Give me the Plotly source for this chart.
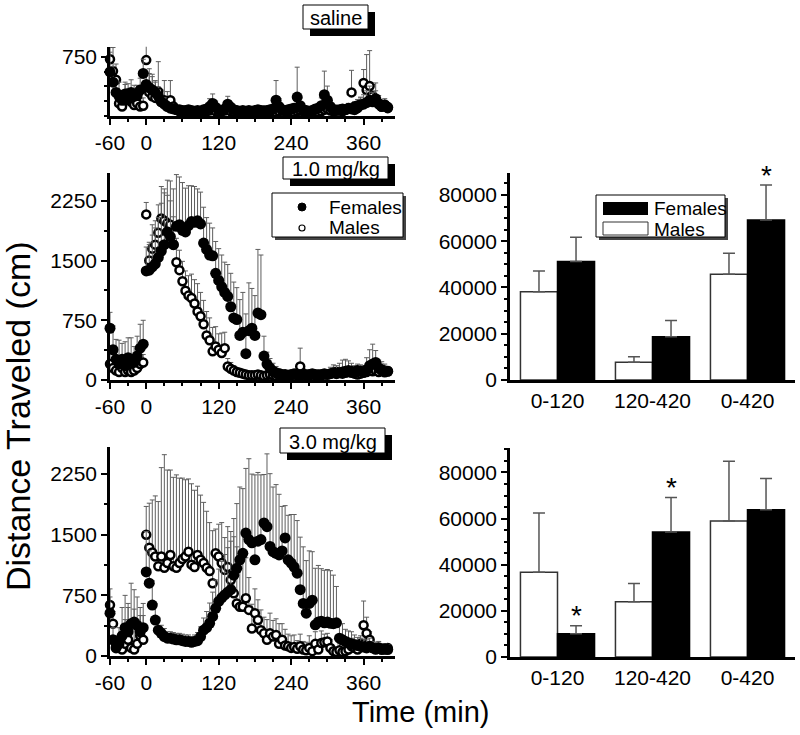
import plotly.graph_objects as go

W, H = 800, 735
FONT = "Liberation Sans, Arial, sans-serif"

# ---------------- data ----------------
times = [-60, -55, -50, -45, -40, -35, -30, -25, -20, -15, -10, -5,
         0, 5, 10, 15, 20, 25, 30, 35, 40, 45, 50, 55,
         60, 65, 70, 75, 80, 85, 90, 95, 100, 105, 110, 115,
         120, 125, 130, 135, 140, 145, 150, 155, 160, 165, 170, 175,
         180, 185, 190, 195, 200, 205, 210, 215, 220, 225, 230, 235,
         240, 245, 250, 255, 260, 265, 270, 275, 280, 285, 290, 295,
         300, 305, 310, 315, 320, 325, 330, 335, 340, 345, 350, 355,
         360, 365, 370, 375, 380, 385, 390, 395, 400]

# saline
sal_f = [560, 430, 300, 250, 200, 280, 220, 300, 250, 260, 330, 540,
         400, 360, 330, 300, 250, 180, 150, 120, 100, 90, 80, 80,
         70, 70, 80, 70, 60, 70, 60, 80, 90, 120, 160, 110,
         80, 70, 90, 150, 110, 80, 70, 60, 70, 60, 70, 60,
         70, 80, 70, 60, 70, 80, 90, 200, 120, 80, 70, 80,
         90, 100, 240, 130, 80, 70, 60, 70, 90, 100, 130, 270,
         200, 120, 80, 70, 80, 90, 80, 100, 90, 80, 130, 140,
         150, 170, 200, 180, 220, 160, 120, 140, 110]
sal_fe = [250, 200, 150, 180, 120, 150, 130, 160, 140, 130, 150, 180,
          150, 180, 200, 150, 120, 100, 80, 60, 50, 40, 40, 40,
          30, 30, 40, 30, 30, 30, 30, 40, 50, 100, 120, 80,
          40, 40, 50, 100, 60, 40, 30, 30, 30, 30, 30, 30,
          30, 40, 30, 30, 40, 40, 50, 250, 100, 40, 30, 40,
          50, 60, 380, 100, 40, 30, 30, 40, 50, 60, 100, 300,
          180, 80, 40, 30, 40, 50, 40, 60, 50, 40, 80, 100,
          120, 150, 180, 120, 200, 100, 60, 80, 60]
sal_m = [720, 570, 460, 160, 120, 200, 230, 180, 140, 160, 120, 130,
         710, 300, 250, 230, 310, 180, 200, 160, 200, 120, 80, 60,
         60, 50, 60, 50, 60, 50, 60, 50, 60, 70, 80, 60,
         50, 60, 70, 80, 60, 50, 60, 50, 60, 50, 60, 50,
         60, 50, 60, 70, 60, 50, 60, 50, 60, 70, 60, 50,
         60, 50, 60, 70, 60, 50, 60, 70, 60, 50, 60, 80,
         90, 70, 60, 80, 70, 60, 80, 90, 300, 120, 100, 150,
         420, 330, 380, 250, 200, 150, 120, 140, 100]
sal_me = [150, 300, 200, 100, 80, 200, 180, 150, 120, 100, 100, 100,
          200, 300, 250, 200, 380, 150, 250, 150, 250, 60, 40, 40,
          30, 30, 30, 30, 30, 30, 30, 30, 30, 40, 40, 30,
          30, 30, 30, 30, 30, 30, 30, 30, 30, 30, 30, 30,
          30, 30, 30, 30, 30, 30, 30, 30, 30, 30, 30, 30,
          30, 30, 30, 30, 30, 30, 30, 30, 30, 30, 30, 30,
          40, 40, 30, 40, 30, 30, 40, 40, 280, 60, 50, 80,
          170, 450, 450, 150, 120, 80, 60, 60, 50]

# 1.0 mg/kg
f1 = [650, 380, 260, 200, 260, 180, 280, 250, 220, 300, 400, 450,
      1370, 1380, 1420, 1460, 1540, 1620, 1700, 1860, 1800, 1700, 1930, 1950,
      1880, 1860, 1940, 1990, 1980, 2000, 1960, 1720, 1640, 1570, 1560, 1340,
      1250, 1170, 1100, 1050, 920, 780, 760, 560, 600, 330, 620, 650,
      560, 840, 820, 300, 200, 150, 110, 90, 80, 70, 70, 60,
      70, 80, 70, 60, 70, 60, 70, 80, 70, 60, 70, 80,
      70, 80, 90, 80, 90, 100, 110, 120, 110, 100, 120, 110,
      100, 130, 180, 200, 220, 150, 120, 100, 110]
f1e = [200, 300, 250, 300, 200, 300, 250, 280, 200, 250, 300, 300,
       300, 350, 400, 450, 500, 600, 650, 650, 700, 700, 650, 600,
       600, 550, 500, 450, 450, 400, 400, 450, 400, 400, 350, 400,
       400, 400, 380, 400, 420, 450, 400, 450, 500, 500, 600, 500,
       500, 800, 750, 250, 150, 120, 100, 80, 60, 50, 40, 40,
       40, 40, 40, 40, 40, 40, 40, 40, 40, 40, 40, 40,
       60, 80, 100, 100, 120, 150, 150, 120, 100, 80, 80, 80,
       80, 150, 200, 250, 150, 100, 80, 60, 60]
m1 = [200, 150, 120, 100, 150, 100, 120, 100, 120, 150, 200, 220,
      2080, 1500, 1650, 1700, 1850, 2030, 2000, 1970, 1950, 1700, 1480, 1380,
      1240, 1120, 1060, 1030, 960, 860, 800, 700, 560, 500, 360, 420,
      380, 340, 400, 170, 140, 120, 100, 90, 80, 70, 60, 60,
      60, 70, 60, 50, 60, 70, 60, 50, 60, 60, 50, 60,
      60, 70, 60, 170, 80, 70, 60, 70, 60, 70, 60, 70,
      70, 80, 90, 100, 90, 80, 90, 100, 90, 80, 70, 80,
      90, 100, 130, 110, 120, 100, 130, 120, 110]
m1e = [150, 100, 80, 60, 80, 60, 80, 60, 80, 100, 120, 100,
       150, 200, 300, 300, 350, 400, 400, 350, 300, 350, 300, 250,
       250, 250, 250, 300, 300, 350, 300, 300, 300, 280, 300, 250,
       200, 250, 200, 100, 80, 60, 50, 40, 40, 30, 30, 30,
       30, 30, 30, 30, 30, 30, 30, 30, 30, 30, 30, 30,
       30, 30, 30, 230, 60, 30, 30, 30, 30, 30, 30, 30,
       30, 40, 50, 60, 50, 40, 50, 60, 50, 40, 30, 40,
       50, 80, 100, 120, 100, 60, 100, 80, 60]

# 3.0 mg/kg
f3 = [530, 200, 100, 150, 250, 350, 300, 400, 420, 380, 300, 350,
      1040, 900, 630, 445, 320, 280, 240, 220, 220, 210, 200, 200,
      190, 180, 180, 170, 180, 190, 240, 320, 350, 405, 490, 590,
      675, 720, 755, 790, 820, 1000, 1085, 1190, 1270, 1520, 1440, 1400,
      1190, 1420, 1440, 1645, 1600, 1355, 1290, 1270, 1250, 1300, 1460, 1190,
      1150, 1100, 1025, 820, 650, 530, 650, 690, 385, 420, 430, 410,
      420, 405, 400, 410, 220, 200, 180, 160, 150, 140, 130, 120,
      110, 100, 120, 100, 90, 100, 80, 90, 80]
f3e = [200, 150, 100, 200, 350, 400, 350, 500, 400, 350, 300, 300,
       500, 400, 300, 200, 150, 100, 100, 80, 80, 80, 80, 80,
       80, 80, 80, 70, 80, 100, 120, 150, 200, 250, 300, 350,
       400, 450, 500, 550, 600, 700, 800, 900, 800, 800, 1000, 850,
       1050, 850, 800, 600, 900, 900, 800, 850, 750, 550, 400, 550,
       600, 650, 650, 650, 700, 650, 650, 600, 700, 700, 650, 650,
       650, 650, 600, 450, 200, 200, 150, 150, 150, 120, 100, 100,
       100, 100, 100, 80, 80, 80, 60, 60, 60]
m3 = [630, 400, 150, 100, 80, 150, 200, 100, 80, 150, 250, 200,
      1500, 1340, 1280, 1230, 1110, 1230, 1090, 1150, 1250, 1110, 1090, 1150,
      1200, 1230, 1290, 1130, 1100, 1250, 1190, 1150, 1090, 1050, 900, 1270,
      1230, 1150, 1065, 1100, 940, 775, 650, 610, 610, 715, 570, 340,
      530, 445, 320, 280, 200, 280, 240, 260, 150, 200, 130, 120,
      100, 110, 90, 120, 80, 70, 100, 60, 150, 80, 160, 170,
      180, 100, 60, 50, 70, 50, 60, 80, 120, 100, 80, 150,
      380, 280, 200, 100, 80, 100, 90, 80, 100]
m3e = [200, 150, 100, 100, 150, 300, 400, 300, 500, 300, 250, 300,
       350, 550, 650, 750, 800, 1100, 1400, 1150, 1050, 1100, 1150, 1050,
       1000, 950, 900, 1000, 950, 850, 800, 750, 700, 600, 650, 300,
       400, 500, 400, 500, 600, 700, 700, 600, 600, 500, 400, 300,
       300, 250, 250, 200, 250, 250, 200, 200, 250, 200, 200, 150,
       150, 150, 100, 150, 100, 100, 150, 100, 150, 100, 150, 100,
       100, 100, 50, 50, 80, 50, 60, 80, 100, 100, 80, 100,
       300, 200, 100, 80, 60, 60, 60, 50, 50]

# bar charts (cumulative distance)
cats = ["0-120", "120-420", "0-420"]
b1_m = [38200, 7700, 45700]
b1_me = [8900, 2400, 9100]
b1_f = [51200, 18700, 69200]
b1_fe = [10500, 7000, 15100]
b1_star_f = [False, False, True]
b2_m = [36700, 23900, 59000]
b2_me = [25700, 8000, 25900]
b2_f = [10100, 54200, 63800]
b2_fe = [3500, 14900, 13600]
b2_star_f = [True, True, False]

time_ticks = [-60, 0, 120, 240, 360]
time_tick_labels = ["-60", "0", "120", "240", "360"]

# ---------------- figure ----------------
def px(x):
    return x / W


def py(y):
    return 1 - y / H


fig = go.Figure()
zeros = [0] * len(times)
ERR_COL = "#5e5e5e"


def add_time_series(xa, ya, fem, fem_e, mal, mal_e):
    fig.add_trace(go.Scatter(
        x=times, y=mal, mode="markers", xaxis=xa, yaxis=ya, cliponaxis=False,
        marker=dict(size=8, color="white", line=dict(color="black", width=2.5)),
        error_y=dict(type="data", symmetric=False, array=mal_e, arrayminus=zeros,
                     color=ERR_COL, thickness=1, width=2.5),
        name="Males"))
    fig.add_trace(go.Scatter(
        x=times, y=fem, mode="markers", xaxis=xa, yaxis=ya, cliponaxis=False,
        marker=dict(size=11, color="black", line=dict(color="black", width=0)),
        error_y=dict(type="data", symmetric=False, array=fem_e, arrayminus=zeros,
                     color=ERR_COL, thickness=1, width=2.5),
        name="Females"))


add_time_series("x", "y", sal_f, sal_fe, sal_m, sal_me)
add_time_series("x2", "y2", f1, f1e, m1, m1e)
add_time_series("x3", "y3", f3, f3e, m3, m3e)


def add_bars(xa, ya, m, me, f, fe):
    fig.add_trace(go.Bar(
        x=cats, y=m, xaxis=xa, yaxis=ya, name="Males",
        marker=dict(color="white", line=dict(color="#333333", width=1.5)),
        error_y=dict(type="data", symmetric=False, array=me, arrayminus=[0, 0, 0],
                     color="#555555", thickness=1.5, width=6)))
    fig.add_trace(go.Bar(
        x=cats, y=f, xaxis=xa, yaxis=ya, name="Females",
        marker=dict(color="black", line=dict(color="black", width=1.5)),
        error_y=dict(type="data", symmetric=False, array=fe, arrayminus=[0, 0, 0],
                     color="#555555", thickness=1.5, width=6)))


add_bars("x4", "y4", b1_m, b1_me, b1_f, b1_fe)
add_bars("x5", "y5", b2_m, b2_me, b2_f, b2_fe)

tickfont = dict(family=FONT, size=21, color="black")
base_axis = dict(showline=True, linecolor="black", linewidth=2.5, ticks="outside",
                 tickcolor="black", tickwidth=2, ticklen=6, showgrid=False,
                 zeroline=False, tickfont=tickfont, fixedrange=True,
                 automargin=False)

LX = [px(110), px(395)]
RX = [px(510), px(795)]

def time_xaxis(anchor):
    return dict(base_axis, domain=LX, anchor=anchor, range=[-60, 412],
                tickmode="array", tickvals=time_ticks, ticktext=time_tick_labels,
                minor=dict(ticks="outside", dtick=30, tick0=0, ticklen=3,
                           tickwidth=1.5, tickcolor="black"))

fig.update_layout(
    template="none",
    width=W, height=735, autosize=False,
    margin=dict(l=0, r=0, t=0, b=0, pad=0, autoexpand=False),
    paper_bgcolor="white", plot_bgcolor="white",
    showlegend=False, barmode="group", bargap=0.22, bargroupgap=0,
    font=dict(family=FONT, color="black"),
    xaxis=time_xaxis("y"),
    yaxis=dict(base_axis, domain=[py(116), py(46.7)], anchor="x", range=[0, 880],
               tickmode="array", tickvals=[750],
               minor=dict(ticks="outside", dtick=187.5, tick0=0, ticklen=3,
                          tickwidth=1.5, tickcolor="black")),
    xaxis2=time_xaxis("y2"),
    yaxis2=dict(base_axis, domain=[py(380), py(173)], anchor="x2", range=[0, 2600],
                tickmode="array", tickvals=[0, 750, 1500, 2250],
                minor=dict(ticks="outside", dtick=375, tick0=0, ticklen=3,
                           tickwidth=1.5, tickcolor="black")),
    xaxis3=time_xaxis("y3"),
    yaxis3=dict(base_axis, domain=[py(656), py(447)], anchor="x3", range=[0, 2585],
                tickmode="array", tickvals=[0, 750, 1500, 2250],
                minor=dict(ticks="outside", dtick=375, tick0=0, ticklen=3,
                           tickwidth=1.5, tickcolor="black")),
    xaxis4=dict(base_axis, domain=RX, anchor="y4", ticks="",
                tickfont=dict(family=FONT, size=21, color="black")),
    yaxis4=dict(base_axis, domain=[py(380), py(173)], anchor="x4", range=[0, 89500],
                tickmode="linear", tick0=0, dtick=20000, tickformat="d",
                tickfont=dict(family=FONT, size=21, color="black"),
                minor=dict(ticks="outside", dtick=5000, tick0=0, ticklen=3,
                           tickwidth=1.5, tickcolor="black")),
    xaxis5=dict(base_axis, domain=RX, anchor="y5", ticks="",
                tickfont=dict(family=FONT, size=21, color="black")),
    yaxis5=dict(base_axis, domain=[py(657), py(448)], anchor="x5", range=[0, 90600],
                tickmode="linear", tick0=0, dtick=20000, tickformat="d",
                tickfont=dict(family=FONT, size=21, color="black"),
                minor=dict(ticks="outside", dtick=5000, tick0=0, ticklen=3,
                           tickwidth=1.5, tickcolor="black")),
)

shapes = []
annotations = []


def rect(x0, y0, x1, y1, fill, line_color=None, lw=0):
    shapes.append(dict(type="rect", xref="paper", yref="paper",
                       x0=px(x0), x1=px(x1), y0=py(y1), y1=py(y0),
                       fillcolor=fill, layer="above",
                       line=dict(color=line_color if line_color else fill, width=lw)))


def text(x, y, s, size, xanchor="center", angle=0):
    annotations.append(dict(xref="paper", yref="paper", x=px(x), y=py(y), text=s,
                            showarrow=False, xanchor=xanchor, yanchor="middle",
                            textangle=angle,
                            font=dict(family=FONT, size=size, color="black")))


# title boxes with drop shadows
def title_box(x0, y0, x1, y1, label, dx=7, dy=7):
    rect(x0 + dx, y0 + dy, x1 + dx, y1 + dy, "black")
    rect(x0, y0, x1, y1, "white", "black", 1)
    text((x0 + x1) / 2, (y0 + y1) / 2 + 1, label, 20)


title_box(303, 5, 368, 29, "saline")
title_box(283, 157, 388, 179, "1.0 mg/kg")
title_box(280, 428, 385, 453, "3.0 mg/kg")

# legend for time courses
rect(275, 196, 406, 240, "#444444")
rect(272, 193, 403, 237, "white", "black", 1)
shapes.append(dict(type="circle", xref="paper", yref="paper",
                   x0=px(298), x1=px(306), y0=py(211), y1=py(203),
                   fillcolor="black", line=dict(color="black", width=1), layer="above"))
shapes.append(dict(type="circle", xref="paper", yref="paper",
                   x0=px(299), x1=px(305), y0=py(231), y1=py(225),
                   fillcolor="white", line=dict(color="black", width=1.2), layer="above"))
text(327, 207, "Females", 19, "left")
text(327, 228, "Males", 19, "left")

# legend for bars
rect(599, 198, 728, 240, "#444444")
rect(596, 195, 725, 237, "white", "black", 1)
rect(603, 202, 648, 215, "black")
rect(603, 222, 648, 235, "white", "#333333", 1)
text(652, 208, "Females", 19, "left")
text(652, 229, "Males", 19, "left")

# axis titles
text(18, 416, "Distance Traveled (cm)", 34, "center", -90)
text(420, 712, "Time (min)", 29)

# significance asterisks above female bars
for xa, ya, f, fe, stars in (("x4", "y4", b1_f, b1_fe, b1_star_f),
                             ("x5", "y5", b2_f, b2_fe, b2_star_f)):
    for c, v, e, s in zip(cats, f, fe, stars):
        if s:
            annotations.append(dict(xref=xa, yref=ya, x=c, y=v + e, text="*",
                                    showarrow=False, xshift=18.5, yshift=10,
                                    xanchor="center", yanchor="middle",
                                    font=dict(family=FONT, size=28, color="black")))

fig.update_layout(shapes=shapes, annotations=annotations)
fig.write_html("out.html", config={"displayModeBar": False},
               post_script="document.body.style.margin='0';document.body.style.overflow='hidden';")
